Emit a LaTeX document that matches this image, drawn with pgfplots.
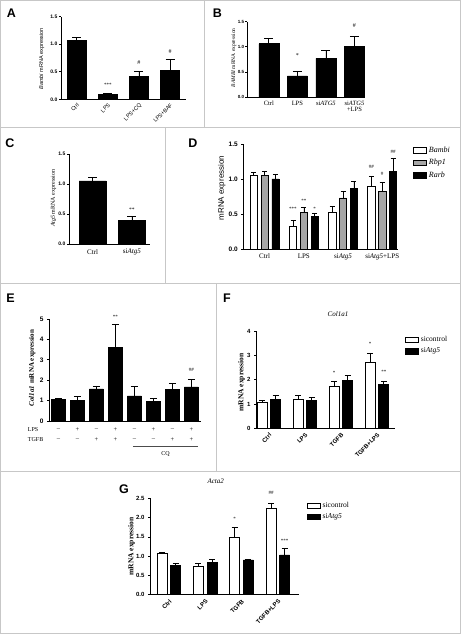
\documentclass[border=0pt]{standalone}
\usepackage{fontspec}
\setmainfont{Liberation Serif}
\newfontfamily\arial{Liberation Sans}
\usepackage{pgfplots}
\pgfplotsset{compat=1.18}
\pgfplotsset{
  gp/.style={
    scale only axis, axis lines=left, axis line style={-, line width=0.7pt},
    ymin=0, clip=false, ybar, anchor=south west,
    tick align=outside, major tick length=2pt,
    ytick style={line width=0.7pt, black},
    xtick style={draw=none},
    /pgf/number format/assume math mode=true,
    enlargelimits=false,
    ylabel style={anchor=center},
  },
  eb/.style={error bars/y dir=plus, error bars/y explicit,
    error bars/error bar style={line width=0.7pt, black},
    error bars/error mark options={rotate=90, line width=0.7pt, black, mark size=#1}},
  bk/.style={fill=black, draw=black, line width=0.6pt, eb=#1},
  wt/.style={fill=white, draw=black, line width=0.7pt, eb=#1},
  gr/.style={fill=black!35, draw=black, line width=0.7pt, eb=#1},
  lg/.style={legend image code/.code={\draw[##1] (0pt,-2.8pt) rectangle (13pt,2.8pt);},
    legend cell align=left},
}
\newcommand{\sfb}[1]{\arial\bfseries\fontsize{#1}{#1}\selectfont}
\newcommand{\sff}[1]{\arial\fontsize{#1}{#1}\selectfont}
\newcommand{\rmf}[1]{\fontsize{#1}{#1}\selectfont}
\begin{document}
\begin{tikzpicture}
\useasboundingbox (0pt,0pt) rectangle (461pt,634pt);
\fill[white] (0pt,0pt) rectangle (461pt,634pt);
\begin{scope}[draw=black!22, line width=1pt]
\draw (0.5pt,0.5pt) rectangle (460.5pt,633.5pt);
\draw (0pt,506pt) -- (461pt,506pt);
\draw (204.3pt,506pt) -- (204.3pt,634pt);
\draw (0pt,350pt) -- (461pt,350pt);
\draw (165.7pt,350pt) -- (165.7pt,506pt);
\draw (0pt,162.3pt) -- (461pt,162.3pt);
\draw (216.7pt,162.3pt) -- (216.7pt,350pt);
\end{scope}
% panel letters
\node[font=\sfb{12.5}] at (11.5pt,620.5pt) {A};
\node[font=\sfb{12.5}] at (217.5pt,620.5pt) {B};
\node[font=\sfb{12.5}] at (10pt,491pt) {C};
\node[font=\sfb{12.5}] at (193pt,491pt) {D};
\node[font=\sfb{12.5}] at (10.5pt,336pt) {E};
\node[font=\sfb{12.5}] at (227pt,336pt) {F};
\node[font=\sfb{12.5}] at (124pt,144.5pt) {G};

% ---------------- A
\begin{axis}[gp, at={(61pt,534.7pt)}, width=124.7pt, height=82.6pt,
  xmin=-0.5, xmax=3.5, ymax=1.5, ytick={0,0.5,1,1.5}, bar width=19pt,
  xtick={0,1,2,3}, xticklabels={Ctrl,LPS,LPS+CQ,LPS+BAF},
  xticklabel style={font=\sff{5.5}, rotate=45, anchor=north east, inner sep=1pt},
  yticklabel style={font=\sfb{5}, inner sep=1.5pt, /pgf/number format/.cd, fixed, fixed zerofill, precision=1},
  ylabel={\textit{Bambi} mRNA expression},
  ylabel style={font=\sff{5.5}, at={(axis description cs:-0.155,0.49)}},
]
\addplot[bk=4.5pt] coordinates {(0,1.07)+-(0,0.06) (1,0.09)+-(0,0.01) (2,0.42)+-(0,0.08) (3,0.52)+-(0,0.20)};
\node[font=\rmf{5}] at (axis cs:1,0.26) {***};
\node[font=\rmf{6}] at (axis cs:2,0.665) {\#};
\node[font=\rmf{6}] at (axis cs:3,0.865) {\#};
\end{axis}

% ---------------- B
\begin{axis}[gp, at={(247.3pt,537pt)}, width=117.7pt, height=75.3pt,
  xmin=-0.754, xmax=3.37, ymax=1.5, ytick={0,0.5,1,1.5}, bar width=20pt,
  xtick={0,1,2,3}, xticklabels={Ctrl,LPS,si\textit{ATG5},si\textit{ATG5}\\+LPS},
  xticklabel style={font=\rmf{6.5}, align=center, anchor=north, inner sep=2pt},
  yticklabel style={font=\sfb{4.5}, inner sep=1pt, /pgf/number format/.cd, fixed, fixed zerofill, precision=1},
  ylabel={\textit{BAMBI} mRNA expression},
  ylabel style={font=\rmf{5.5}, at={(axis description cs:-0.115,0.52)}},
]
\addplot[bk=4.5pt] coordinates {(0,1.06)+-(0,0.10) (1,0.42)+-(0,0.10) (2,0.77)+-(0,0.15) (3,1.0)+-(0,0.20)};
\node[font=\rmf{6}] at (axis cs:1,0.82) {*};
\node[font=\rmf{6}] at (axis cs:3,1.43) {\#};
\end{axis}

% ---------------- C
\begin{axis}[gp, at={(69pt,390pt)}, width=81pt, height=89.7pt,
  xmin=-0.6, xmax=1.46, ymax=1.5, ytick={0,0.5,1,1.5}, bar width=27pt,
  xtick={0,1}, xticklabels={Ctrl,si\textit{Atg5}},
  xticklabel style={font=\rmf{7}, anchor=north, inner sep=3pt},
  yticklabel style={font=\sfb{5}, inner sep=1.5pt, /pgf/number format/.cd, fixed, fixed zerofill, precision=1},
  ylabel={\textit{Atg5} mRNA expression},
  ylabel style={font=\rmf{6}, at={(axis description cs:-0.19,0.51)}},
]
\addplot[bk=4.5pt] coordinates {(0,1.056)+-(0,0.054) (1,0.40)+-(0,0.07)};
\node[font=\rmf{5.5}] at (axis cs:1,0.57) {**};
\end{axis}

% ---------------- D
\begin{axis}[gp, lg, at={(243.3pt,385pt)}, width=155pt, height=105pt,
  xmin=-0.545, xmax=3.41, ymax=1.5, ytick={0,0.5,1,1.5}, bar width=7.3pt,
  xtick={0,1,2,3}, xticklabels={Ctrl,LPS,si\textit{Atg5},si\textit{Atg5}+LPS},
  xticklabel style={font=\rmf{7}, anchor=north, inner sep=2.5pt},
  yticklabel style={font=\sfb{6.5}, /pgf/number format/.cd, fixed, fixed zerofill, precision=1},
  ylabel={mRNA expression},
  ylabel style={font=\sff{8}, at={(axis description cs:-0.139,0.58)}},
  legend style={at={(axis description cs:1.095,0.995)}, anchor=north west, draw=none, fill=none,
    font=\rmf{8}\itshape, row sep=1.5pt, inner sep=0pt},
]
\addplot[bar shift=-10.83pt, wt=2.5pt] coordinates {(0,1.048)+-(0,0.04) (1,0.33)+-(0,0.08) (2,0.53)+-(0,0.08) (3,0.90)+-(0,0.14)};
\addplot[bar shift=0pt, gr=2.5pt] coordinates {(0,1.048)+-(0,0.055) (1,0.52)+-(0,0.07) (2,0.73)+-(0,0.09) (3,0.82)+-(0,0.13)};
\addplot[bar shift=10.83pt, bk=2.5pt] coordinates {(0,1.0)+-(0,0.07) (1,0.46)+-(0,0.05) (2,0.87)+-(0,0.09) (3,1.11)+-(0,0.185)};
\legend{Bambi,Rbp1,Rarb}
\node[font=\rmf{5}] at (axis cs:0.723,0.57) {***};
\node[font=\rmf{5}] at (axis cs:1,0.69) {**};
\node[font=\rmf{5}] at (axis cs:1.277,0.58) {*};
\node[font=\rmf{5}] at (axis cs:2.723,1.17) {\#\#};
\node[font=\rmf{5}] at (axis cs:3,1.08) {\#};
\node[font=\rmf{5}] at (axis cs:3.277,1.39) {\#\#};
\end{axis}

% ---------------- E
\begin{axis}[gp, at={(49pt,213pt)}, width=152pt, height=102pt,
  xmin=-0.5, xmax=7.5, ymax=5, ytick={0,1,2,3,4,5}, bar width=14pt,
  xtick=\empty,
  yticklabel style={font=\sfb{6.5}},
  ylabel={\textit{Col1a1} mRNA expression},
  ylabel style={font=\bfseries\rmf{7}, at={(axis description cs:-0.11,0.52)}},
]
\addplot[bk=3.5pt] coordinates {(0,1.06)+-(0,0.03) (1,1.01)+-(0,0.18) (2,1.57)+-(0,0.15) (3,3.61)+-(0,1.13)
  (4,1.23)+-(0,0.45) (5,0.96)+-(0,0.15) (6,1.54)+-(0,0.32) (7,1.67)+-(0,0.37)};
\node[font=\rmf{5}] at (axis cs:3,5.11) {**};
\node[font=\rmf{5}] at (axis cs:7,2.5) {\#\#};
\node[font=\rmf{6}, anchor=west, inner sep=0pt] at (axis cs:-1.62,-0.41) {LPS};
\node[font=\rmf{6}, anchor=west, inner sep=0pt] at (axis cs:-1.62,-0.93) {TGFB};
\node[font=\rmf{6.5}] at (axis cs:0,-0.41) {--};
\node[font=\rmf{6.5}] at (axis cs:1,-0.41) {+};
\node[font=\rmf{6.5}] at (axis cs:2,-0.41) {--};
\node[font=\rmf{6.5}] at (axis cs:3,-0.41) {+};
\node[font=\rmf{6.5}] at (axis cs:4,-0.41) {--};
\node[font=\rmf{6.5}] at (axis cs:5,-0.41) {+};
\node[font=\rmf{6.5}] at (axis cs:6,-0.41) {--};
\node[font=\rmf{6.5}] at (axis cs:7,-0.41) {+};
\node[font=\rmf{6.5}] at (axis cs:0,-0.93) {--};
\node[font=\rmf{6.5}] at (axis cs:1,-0.93) {--};
\node[font=\rmf{6.5}] at (axis cs:2,-0.93) {+};
\node[font=\rmf{6.5}] at (axis cs:3,-0.93) {+};
\node[font=\rmf{6.5}] at (axis cs:4,-0.93) {--};
\node[font=\rmf{6.5}] at (axis cs:5,-0.93) {--};
\node[font=\rmf{6.5}] at (axis cs:6,-0.93) {+};
\node[font=\rmf{6.5}] at (axis cs:7,-0.93) {+};
\draw[line width=0.5pt, black!70] (axis cs:3.91,-1.26) -- (axis cs:7.33,-1.26);
\node[font=\rmf{6}] at (axis cs:5.63,-1.6) {CQ};
\end{axis}

% ---------------- F
\begin{axis}[gp, lg, at={(256pt,205.7pt)}, width=139pt, height=97.3pt,
  xmin=-0.356, xmax=3.5, ymax=4, ytick={0,1,2,3,4}, bar width=10pt,
  xtick={0,1,2,3}, xticklabels={Ctrl,LPS,TGFB,TGFB+LPS},
  xticklabel style={font=\sfb{6}, rotate=45, anchor=north east, inner sep=1.5pt},
  yticklabel style={font=\sfb{6}},
  ylabel={mRNA expression},
  ylabel style={font=\bfseries\rmf{7.5}, at={(axis description cs:-0.103,0.47)}},
  legend style={at={(axis description cs:1.072,0.965)}, anchor=north west, draw=none, fill=none,
    font=\rmf{7.5}, row sep=0.5pt, inner sep=0pt},
  title={\textit{Col1a1}}, title style={font=\rmf{7}, at={(axis description cs:0.59,1.11)}, anchor=center},
]
\addplot[bar shift=-6.8pt, wt=3pt] coordinates {(0,1.05)+-(0,0.08) (1,1.18)+-(0,0.18) (2,1.73)+-(0,0.20) (3,2.73)+-(0,0.37)};
\addplot[bar shift=6.8pt, bk=3pt] coordinates {(0,1.2)+-(0,0.17) (1,1.16)+-(0,0.12) (2,1.97)+-(0,0.22) (3,1.82)+-(0,0.10)};
\legend{sicontrol,si\textit{Atg5}}
\node[font=\rmf{5}] at (axis cs:1.81,2.26) {*};
\node[font=\rmf{5}] at (axis cs:2.81,3.47) {*};
\node[font=\rmf{5}] at (axis cs:3.19,2.3) {**};
\end{axis}

% ---------------- G
\begin{axis}[gp, lg, at={(150pt,39.3pt)}, width=149.3pt, height=96.4pt,
  xmin=-0.52, xmax=3.59, ymax=2.5, ytick={0,0.5,1,1.5,2,2.5}, bar width=10pt,
  xtick={0,1,2,3}, xticklabels={Ctrl,LPS,TGFB,TGFB+LPS},
  xticklabel style={font=\sfb{6}, rotate=45, anchor=north east, inner sep=1.5pt},
  yticklabel style={font=\sfb{6}, /pgf/number format/.cd, fixed, fixed zerofill, precision=1},
  ylabel={mRNA expression},
  ylabel style={font=\bfseries\rmf{7.5}, at={(axis description cs:-0.123,0.5)}},
  legend style={at={(axis description cs:1.05,0.98)}, anchor=north west, draw=none, fill=none,
    font=\rmf{7.5}, row sep=0.5pt, inner sep=0pt},
  title={\textit{Acta2}}, title style={font=\rmf{7}, at={(axis description cs:0.44,1.12)}, anchor=center},
]
\addplot[bar shift=-6.83pt, wt=3pt] coordinates {(0,1.07)+-(0,0.035) (1,0.74)+-(0,0.07) (2,1.48)+-(0,0.26) (3,2.245)+-(0,0.135)};
\addplot[bar shift=6.83pt, bk=3pt] coordinates {(0,0.76)+-(0,0.05) (1,0.83)+-(0,0.085) (2,0.90)+-(0,0.015) (3,1.03)+-(0,0.18)};
\legend{sicontrol,si\textit{Atg5}}
\node[font=\rmf{5}] at (axis cs:1.812,1.97) {*};
\node[font=\rmf{5}] at (axis cs:2.812,2.63) {\#\#};
\node[font=\rmf{5}] at (axis cs:3.188,1.40) {***};
\end{axis}
\end{tikzpicture}
\end{document}
